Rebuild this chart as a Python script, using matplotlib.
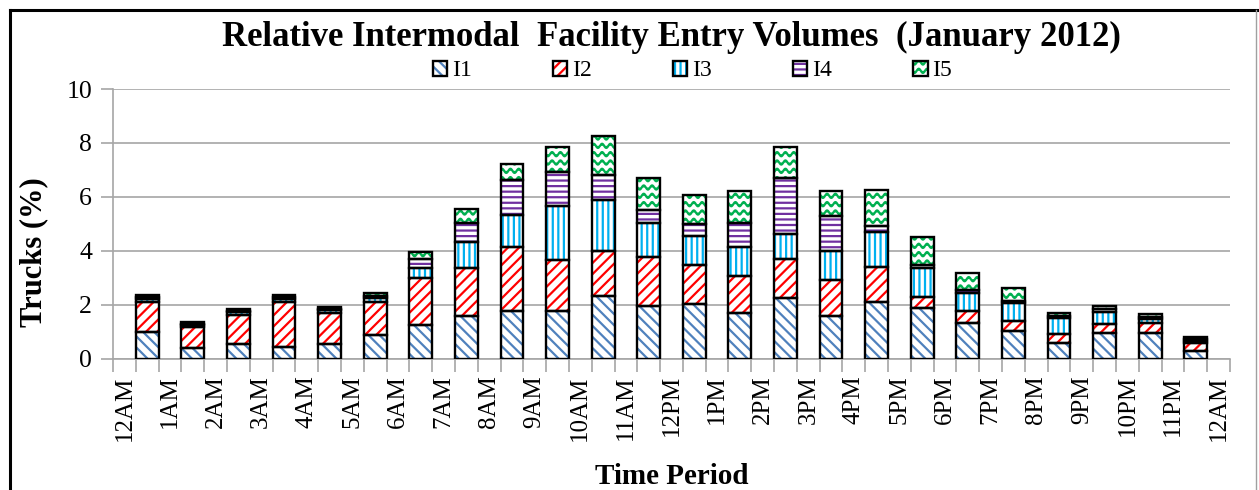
import numpy as np
import matplotlib
matplotlib.use("Agg")
import matplotlib.pyplot as plt
import matplotlib.hatch as mhatch
from matplotlib.patches import Patch
from matplotlib.lines import Line2D

hours = ["12AM", "1AM", "2AM", "3AM", "4AM", "5AM", "6AM", "7AM", "8AM", "9AM",
         "10AM", "11AM", "12PM", "1PM", "2PM", "3PM", "4PM", "5PM", "6PM", "7PM",
         "8PM", "9PM", "10PM", "11PM", "12AM"]

I1 = [1.00, 0.38, 0.53, 0.43, 0.53, 0.87, 1.24, 1.58, 1.76, 1.76, 2.33, 1.95,
      2.01, 1.68, 2.23, 1.58, 2.11, 1.86, 1.33, 1.03, 0.56, 0.94, 0.94, 0.28]
I2 = [1.10, 0.78, 1.10, 1.68, 1.17, 1.24, 1.74, 1.79, 2.37, 1.89, 1.67, 1.83,
      1.46, 1.38, 1.45, 1.33, 1.30, 0.43, 0.43, 0.36, 0.35, 0.34, 0.37, 0.28]
I3 = [0.10, 0.08, 0.08, 0.10, 0.09, 0.12, 0.39, 0.94, 1.19, 2.01, 1.88, 1.26,
      1.09, 1.07, 0.93, 1.08, 1.30, 1.06, 0.66, 0.68, 0.60, 0.46, 0.16, 0.10]
I4 = [0.07, 0.05, 0.06, 0.08, 0.06, 0.10, 0.31, 0.73, 1.30, 1.27, 0.93, 0.47,
      0.42, 0.89, 2.08, 1.30, 0.21, 0.12, 0.12, 0.06, 0.08, 0.09, 0.08, 0.06]
I5 = [0.08, 0.05, 0.06, 0.07, 0.07, 0.10, 0.28, 0.50, 0.59, 0.93, 1.45, 1.18,
      1.09, 1.20, 1.17, 0.93, 1.33, 1.03, 0.65, 0.50, 0.09, 0.10, 0.09, 0.07]

series = {"I1": I1, "I2": I2, "I3": I3, "I4": I4, "I5": I5}
styles = {
    "I1": ("#4F81BD", "\\\\\\"),
    "I2": ("#FF0000", "///"),
    "I3": ("#00B0F0", "|||"),
    "I4": ("#7030A0", "---"),
    "I5": ("#00B050", "oo"),  # 'o' is remapped to a wavy hatch below
}


# wavy hatch used in place of small circles
class WaveHatch(mhatch.HatchPatternBase):
    def __init__(self, hatch, density):
        self.num_lines = int(hatch.count('o') * density)
        self.steps = 240
        self.num_vertices = self.num_lines * (self.steps + 1)

    def set_vertices_and_codes(self, vertices, codes):
        xs = np.linspace(0, 1, self.steps + 1)
        amp = 0.25 / self.num_lines
        n = self.steps + 1
        for i in range(self.num_lines):
            y0 = (i + 0.5) / self.num_lines
            vertices[i * n:(i + 1) * n, 0] = xs
            vertices[i * n:(i + 1) * n, 1] = y0 + amp * np.sin(2 * np.pi * self.num_lines * xs)
            codes[i * n] = mhatch.Path.MOVETO
            codes[i * n + 1:(i + 1) * n] = mhatch.Path.LINETO


mhatch._hatch_types = [WaveHatch if t is mhatch.SmallCircles else t
                       for t in mhatch._hatch_types]

plt.rcParams['hatch.linewidth'] = 1.6
plt.rcParams['font.family'] = ['Liberation Serif', 'DejaVu Serif']

fig = plt.figure(figsize=(12.59, 4.90), dpi=100)
ax = fig.add_axes([113 / 1259, 1 - 358.5 / 490, (1230 - 113) / 1259, (358.5 - 89) / 490])

xpos = np.arange(1, 48, 2)
bottom = np.zeros(len(xpos))
handles = []
for name, vals in series.items():
    col, hatch = styles[name]
    ax.bar(xpos, vals, width=1.0, bottom=bottom, color="white", edgecolor=col,
           hatch=hatch, linewidth=0, zorder=2)
    ax.bar(xpos, vals, width=1.0, bottom=bottom, fill=False, edgecolor="black",
           linewidth=1.7, zorder=3)
    bottom += np.array(vals)
    handles.append((Patch(facecolor="white", edgecolor=col, hatch=hatch, linewidth=0),
                    Patch(fill=False, edgecolor="black", linewidth=1.7)))

ax.set_xlim(-0.5, 48.5)
ax.set_ylim(0, 10)
ax.set_yticks([0, 2, 4, 6, 8, 10])
ax.yaxis.grid(True, color="#a6a6a6", linewidth=1.2, zorder=0)
ax.set_axisbelow(True)

ax.set_xticks(np.arange(0, 49, 2))
ax.set_xticklabels(hours, rotation=90, fontsize=18)
ax.set_xticks(np.arange(-0.5, 49, 1), minor=True)
ax.tick_params(axis="x", which="major", length=0, pad=12)
ax.tick_params(axis="x", which="minor", length=9, color="#a6a6a6", width=1.2)
ax.tick_params(axis="y", length=9, color="#a6a6a6", width=1.2, labelsize=18.5, pad=6)

for s in ["top", "right"]:
    ax.spines[s].set_visible(False)
for s in ["left", "bottom"]:
    ax.spines[s].set_color("#a6a6a6")
    ax.spines[s].set_linewidth(1.2)

ax.set_ylabel("Trucks (%)", fontsize=22, fontweight="bold")
ax.yaxis.set_label_coords(-0.058, 0.395)
ax.set_xlabel("Time Period", fontsize=21, fontweight="bold", labelpad=16)

fig.text(0.533, 1 - 37 / 490, "Relative Intermodal  Facility Entry Volumes  (January 2012)",
         ha="center", va="center", fontsize=25, fontweight="bold")

fig.legend(handles, list(series.keys()), loc="center", bbox_to_anchor=(0.55, 1 - 71 / 490),
           ncol=5, frameon=False, fontsize=17, handlelength=0.6, handleheight=0.6,
           handletextpad=0.2, columnspacing=3.45)

# outer chart border
fig.add_artist(Line2D([10 / 1259, 10 / 1259], [0, 1 - 10 / 490], transform=fig.transFigure,
                      color="black", linewidth=2.2))
fig.add_artist(Line2D([10 / 1259, 1257 / 1259], [1 - 10 / 490, 1 - 10 / 490],
                      transform=fig.transFigure, color="black", linewidth=2.2))
fig.add_artist(Line2D([1256 / 1259, 1256 / 1259], [0, 1 - 10 / 490], transform=fig.transFigure,
                      color="#a0a0a0", linewidth=1.0))

fig.savefig("out.png", dpi=100)
